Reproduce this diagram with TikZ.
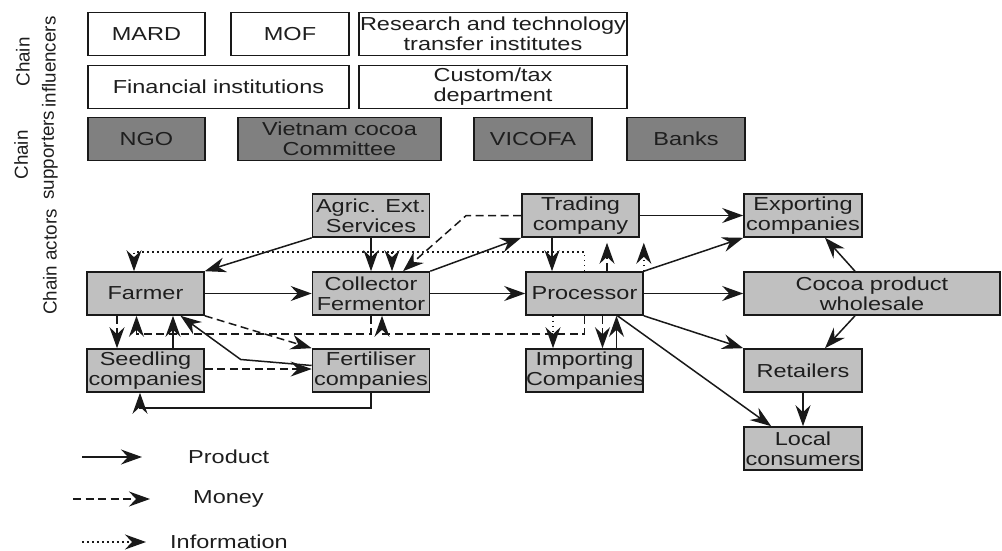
\documentclass[tikz,border=0pt]{standalone}
\usepackage{fontspec}
\setmainfont{Liberation Sans}[FakeStretch=1.25]
\newfontfamily\sidefont{Liberation Sans}
\usetikzlibrary{arrows.meta,calc}
\definecolor{actorfill}{RGB}{192,192,192}
\definecolor{supportfill}{RGB}{128,128,128}
\definecolor{edgegray}{RGB}{25,25,25}
\definecolor{inkgray}{RGB}{30,30,30}

\begin{document}
\begin{tikzpicture}[x=1pt,y=-1pt,
  chainbox/.style={draw=edgegray, line width=1.6pt, inner sep=0pt,
    text width=#1, minimum width=#1, minimum height=43pt, align=center,
    text=inkgray, font=\fontsize{18.8}{20}\selectfont},
  chainbox/.default=117pt,
  influ/.style={chainbox=#1, fill=white},
  influ/.default=117pt,
  support/.style={chainbox=#1, fill=supportfill},
  support/.default=117pt,
  actor/.style={chainbox=#1, fill=actorfill},
  actor/.default=117pt,
  sidelabel/.style={rotate=90, align=center, text=inkgray,
    font=\sidefont\fontsize{18.8}{26}\selectfont},
  legendtext/.style={anchor=west, inner sep=0pt, text=inkgray,
    font=\fontsize{18.8}{20}\selectfont},
  product/.style={draw=edgegray, line width=1.5pt,
    -{Stealth[length=21pt,width=15pt,inset=7pt]}},
  money/.style={product, dash pattern=on 8pt off 4.5pt},
  info/.style={product, dash pattern=on 1.6pt off 3.4pt},
]
\useasboundingbox (0,0) rectangle (1002,551);

% group labels
\node[sidelabel] (lblinf) at (36,62) {Chain\\influencers};
\node[sidelabel] (lblsup) at (36,155) {Chain\\supporters};
\node[sidelabel] (lblact) at (50,262) {Chain actors};

% chain influencers
\node[influ] (mard) at (146.5,34) {MARD};
\node[influ=118pt] (mof) at (290,34) {MOF};
\node[influ=268pt] (research) at (493,34) {\mbox{Research and technology}\\transfer institutes};
\node[influ=261pt] (finance) at (218.5,87) {Financial institutions};
\node[influ=268pt] (custom) at (493,87) {Custom/tax\\department};

% chain supporters
\node[support] (ngo) at (146.5,139) {NGO};
\node[support=203pt] (vcc) at (339.5,139) {Vietnam cocoa\\Committee};
\node[support=118pt] (vicofa) at (533,139) {VICOFA};
\node[support=118pt] (banks) at (686,139) {Banks};

% chain actors
\node[actor] (agric) at (371,215.5) {Agric. Ext.\\Services};
\node[actor] (trading) at (580.5,215.5) {Trading\\company};
\node[actor=118pt] (exporting) at (803,215.5) {Exporting\\companies};
\node[actor] (farmer) at (145.5,293.5) {Farmer};
\node[actor] (collector) at (371,293.5) {Collector\\Fermentor};
\node[actor] (processor) at (584.5,293.5) {Processor};
\node[actor=256pt] (cocoa) at (872,293.5) {Cocoa product\\wholesale};
\node[actor] (seedling) at (145.5,370.5) {Seedling\\companies};
\node[actor] (fertiliser) at (371,370.5) {Fertiliser\\companies};
\node[actor] (importing) at (584.5,370.5) {Importing\\Companies};
\node[actor=118pt] (retailers) at (803,370.5) {Retailers};
\node[actor=118pt] (local) at (803,448.5) {Local\\consumers};

% product flows
\draw[product] (agric.south west) -- (farmer.north east);
\draw[product] (agric.south) -- (collector.north);
\draw[product] (farmer.east) -- (collector.west);
\draw[product] (collector.east) -- (processor.west);
\draw[product] (collector.north east) -- (trading.south west);
\draw[product] ($(trading.south)+(-28.5,0)$) -- ($(processor.north)+(-32.5,0)$);
\draw[product] (trading.east) -- (exporting.west);
\draw[product] (processor.north east) -- (exporting.south west);
\draw[product] (processor.east) -- (cocoa.west);
\draw[product] (processor.south east) -- (retailers.north west);
\draw[product] ($(processor.south)+(33,0)$) -- ($(local.north west)+(28,0)$);
\draw[product] ($(importing.north)+(32,0)$) -- ($(processor.south)+(32,0)$);
\draw[product] ($(cocoa.north)+(-17,0)$) -- ($(exporting.south)+(22,0)$);
\draw[product] ($(cocoa.south)+(-17,0)$) -- ($(retailers.north)+(22,0)$);
\draw[product] (retailers.south) -- (local.north);
\draw[product] ($(seedling.north)+(27.5,0)$) -- ($(farmer.south)+(27.5,0)$);
\draw[product] ($(fertiliser.west)+(0,-5)$) -- ($(fertiliser.west)+(-71,-11)$)
  -- ($(farmer.south)+(35,0)$);
\draw[product] (fertiliser.south) -- ++(0,15) -| ($(seedling.south)+(-5.5,0)$);

% money flows
\draw[money] (trading.west) -- ++(-55,0) -- ($(collector.north)+(32,0)$);
\draw[money] ($(farmer.south)+(-28.5,0)$) -- ($(seedling.north)+(-28.5,0)$);
\draw[money] (farmer.south east) -- (fertiliser.north west);
\draw[money] ($(seedling.east)+(0,-1.5)$) -- ($(fertiliser.west)+(0,-1.5)$);
\draw[money] (collector.south) -- ++(0,18) -| ($(farmer.south)+(-9,0)$);
\draw[money] (processor.south) -- ++(0,18) -| ($(collector.south)+(11,0)$);
\draw[money] ($(processor.south)+(18,0)$) -- ($(importing.north)+(18,0)$);
\draw[money] ($(processor.north)+(22.5,0)$) -- ($(trading.south)+(26.5,5)$);

% information flows
\draw[info] (processor.north) -- ++(0,-19) -| ($(farmer.north)+(-11.5,0)$);
\draw[info] ($(collector.north)+(21,-19)$) -- ($(collector.north)+(21,0)$);
\draw[info] ($(processor.south)+(-31.5,0)$) -- ($(importing.north)+(-31.5,0)$);
\draw[info] (processor.north east) -- ($(trading.south east)+(4,5)$);

% legend
\coordinate (lpa) at (82,457);
\coordinate (lpb) at (142,457);
\draw[product] (lpa) -- (lpb);
\node[legendtext] (lproduct) at (188,457) {Product};
\coordinate (lma) at (73,499);
\coordinate (lmb) at (150,499);
\draw[money] (lma) -- (lmb);
\node[legendtext] (lmoney) at (193,499) {Money};
\coordinate (lia) at (82,542);
\coordinate (lib) at (146,542);
\draw[info] (lia) -- (lib);
\node[legendtext] (linfo) at (170,542) {Information};
\end{tikzpicture}
\end{document}
